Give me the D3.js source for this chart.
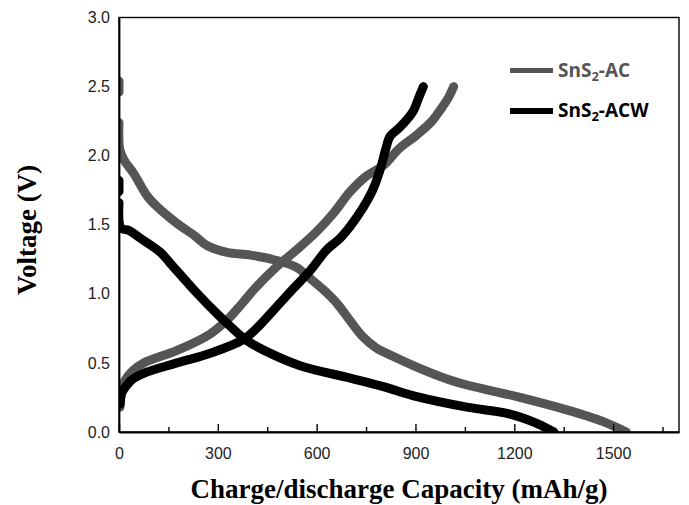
<!DOCTYPE html>
<html>
<head>
<meta charset="utf-8">
<script src="https://cdn.jsdelivr.net/npm/d3@7"></script>
<style>
  body { margin: 0; background: #fff; }
  .tick text { font-family: "Liberation Sans", Arial, sans-serif; font-size: 16px; fill: #222; }
  .axis-label { font-family: "Liberation Serif", "Times New Roman", serif; font-weight: bold; font-size: 27px; fill: #000; }
  .legend text { font-family: "Open Sans", "Noto Sans", sans-serif; font-weight: bold; font-size: 19px; }
</style>
</head>
<body>
<svg id="chart" width="689" height="505"></svg>
<script>
// SnS2-AC (gray) discharge / charge, [capacity mAh/g, voltage V]
const acDischarge = [
  [0, 2.54], [0, 2.46], null,
  [0, 2.24], [2, 2.05], [15, 1.97], [45, 1.87], [85, 1.71], [116, 1.63],
  [176, 1.51], [230, 1.42], [267, 1.35], [328, 1.30], [400, 1.28], [480, 1.24],
  [540, 1.19], [581, 1.11], [625, 1.02], [662, 0.93], [700, 0.81], [740, 0.69],
  [780, 0.61], [830, 0.55], [904, 0.47], [1000, 0.38], [1056, 0.34], [1208, 0.256],
  [1359, 0.16], [1470, 0.075], [1540, 0.0]
];
const acCharge = [
  [3, 0.18], [8, 0.3], [15, 0.36], [40, 0.44], [75, 0.50], [176, 0.59], [277, 0.71],
  [328, 0.81], [370, 0.92], [409, 1.03], [480, 1.20], [540, 1.32], [600, 1.45],
  [650, 1.58], [702, 1.74], [750, 1.85], [803, 1.93], [850, 2.05], [904, 2.15],
  [950, 2.25], [975, 2.33], [1000, 2.42], [1016, 2.50]
];
// SnS2-ACW (black)
const acwDischarge = [
  [0, 1.82], [0, 1.74], null,
  [0, 1.66], [2, 1.50], [10, 1.47], [30, 1.46], [60, 1.41], [126, 1.30], [156, 1.22],
  [227, 1.03], [300, 0.85], [340, 0.76], [389, 0.66], [450, 0.58], [550, 0.48],
  [702, 0.39], [800, 0.33], [904, 0.256], [1056, 0.18], [1187, 0.13], [1268, 0.063],
  [1320, 0.0]
];
const acwCharge = [
  [3, 0.2], [8, 0.28], [15, 0.31], [40, 0.38], [75, 0.425], [176, 0.50], [277, 0.57],
  [378, 0.67], [430, 0.78], [480, 0.91], [530, 1.04], [581, 1.17], [631, 1.32],
  [670, 1.40], [702, 1.49], [740, 1.62], [770, 1.75], [793, 1.90], [810, 2.05],
  [823, 2.14], [850, 2.20], [874, 2.26], [895, 2.33], [910, 2.42], [924, 2.50]
];

const xTicks = [0, 300, 600, 900, 1200, 1500];
const xMinorTicks = [150, 450, 750, 1050, 1350, 1650];
const yTicks = [0, 0.5, 1.0, 1.5, 2.0, 2.5, 3.0];

const series = [
  { name: "AC", curves: [acDischarge, acCharge], color: "#555555" },
  { name: "ACW", curves: [acwDischarge, acwCharge], color: "#000000" }
];

const plot = { left: 119, right: 679, top: 17.5, bottom: 432 };

const x = d3.scaleLinear().domain([0, 1700]).range([plot.left, plot.right]);
const y = d3.scaleLinear().domain([0, 3]).range([plot.bottom, plot.top]);

const svg = d3.select("#chart");

svg.append("clipPath").attr("id", "plot-clip")
  .append("rect")
  .attr("x", plot.left).attr("y", plot.top)
  .attr("width", plot.right - plot.left).attr("height", plot.bottom - plot.top);

const line = d3.line()
  .defined(d => d)
  .x(d => x(d[0]))
  .y(d => y(d[1]))
  .curve(d3.curveCatmullRom.alpha(0.5));

const curves = svg.append("g").attr("clip-path", "url(#plot-clip)");
series.forEach(s => {
  s.curves.forEach(c => {
    curves.append("path")
      .attr("d", line(c))
      .attr("fill", "none")
      .attr("stroke", s.color)
      .attr("stroke-width", 9)
      .attr("stroke-linecap", "round")
      .attr("stroke-linejoin", "round");
  });
});

// frame
svg.append("rect")
  .attr("x", plot.left).attr("y", plot.top)
  .attr("width", plot.right - plot.left).attr("height", plot.bottom - plot.top)
  .attr("fill", "none").attr("stroke", "#000").attr("stroke-width", 1.4);

// x axis, ticks point inward
const xAxis = d3.axisBottom(x).tickValues(xTicks).tickSizeInner(-8).tickSizeOuter(0)
  .tickPadding(16).tickFormat(d => d);
const gx = svg.append("g").attr("transform", `translate(0, ${plot.bottom})`).call(xAxis);
gx.select(".domain").attr("stroke-width", 1.8);
gx.selectAll(".tick line").attr("stroke-width", 1.4);

const gxm = svg.append("g").attr("transform", `translate(0, ${plot.bottom})`)
  .call(d3.axisBottom(x).tickValues(xMinorTicks).tickSizeInner(-5).tickSizeOuter(0).tickFormat(""));
gxm.select(".domain").remove();
gxm.selectAll(".tick line").attr("stroke-width", 1.4);

// y axis, no tick marks
const yAxis = d3.axisLeft(y).tickValues(yTicks).tickSize(0).tickPadding(9).tickFormat(d3.format(".1f"));
const gy = svg.append("g").attr("transform", `translate(${plot.left}, 0)`).call(yAxis);
gy.select(".domain").attr("stroke-width", 1.8);

svg.append("text")
  .attr("class", "axis-label")
  .attr("text-anchor", "middle")
  .attr("x", (plot.left + plot.right) / 2)
  .attr("y", 498)
  .text("Charge/discharge Capacity (mAh/g)");

svg.append("text")
  .attr("class", "axis-label")
  .attr("text-anchor", "middle")
  .attr("transform", "translate(36, 230) rotate(-90)")
  .text("Voltage (V)");

// legend
const legend = svg.append("g").attr("class", "legend");
const legendRows = [
  { label: "AC", color: "#555555", y: 70.5, width: 5 },
  { label: "ACW", color: "#000000", y: 111, width: 6 }
];
legendRows.forEach(r => {
  legend.append("line")
    .attr("x1", 510).attr("x2", 553)
    .attr("y1", r.y).attr("y2", r.y)
    .attr("stroke", r.color).attr("stroke-width", r.width);
  const t = legend.append("text")
    .attr("x", 558).attr("y", r.y + 6)
    .attr("fill", r.color);
  t.append("tspan").text("SnS");
  t.append("tspan").attr("font-size", 13).attr("dy", 4).text("2");
  t.append("tspan").attr("dy", -4).text("-" + r.label);
});
</script>
</body>
</html>
